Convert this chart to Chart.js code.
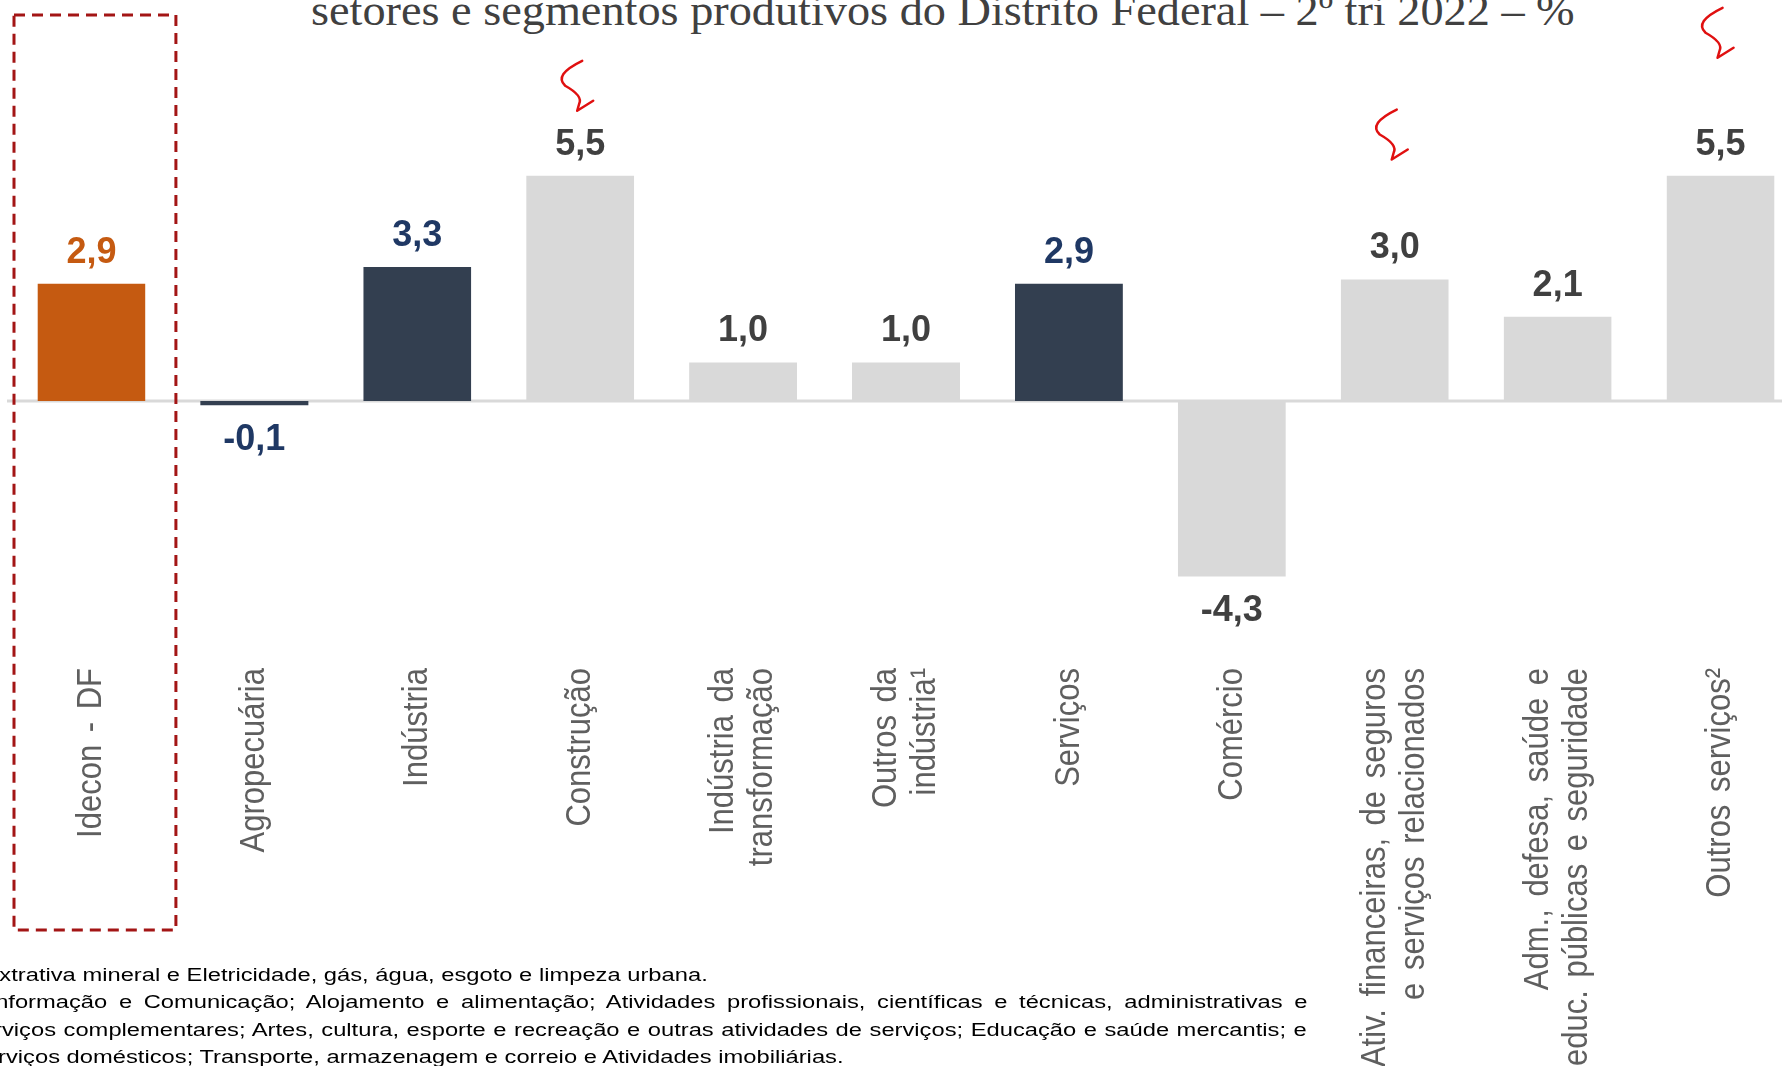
<!DOCTYPE html>
<html lang="pt-BR">
<head>
<meta charset="utf-8">
<title>Setores e segmentos produtivos do Distrito Federal</title>
<script src="https://cdn.jsdelivr.net/npm/chart.js@4.4.1/dist/chart.umd.min.js"></script>
<style>
  html, body { margin: 0; padding: 0; background: #fff; }
  body { width: 1782px; height: 1066px; overflow: hidden; position: relative; }
  #chart { position: absolute; left: 0; top: 0; }
  #title {
    position: absolute; left: 311px; top: -12px;
    font-family: "Liberation Serif", "DejaVu Serif", serif;
    font-size: 44.6px; line-height: 44.6px; color: #404040;
    white-space: nowrap; transform-origin: 0 0;
  }
  #notes {
    position: absolute; left: -31px; top: 961px;
    font-family: "Liberation Sans", Arial, sans-serif;
    font-size: 18.7px; line-height: 27.4px; color: #000;
    transform: scaleX(1.27); transform-origin: 0 0;
  }
  #notes .line { white-space: nowrap; }
  #notes .line span { display: inline-block; }
</style>
</head>
<body>
<div id="title">setores e segmentos produtivos do Distrito Federal – 2º tri 2022 – %</div>
<canvas id="chart" width="1810" height="1066"></canvas>
<div id="notes">
  <div class="line"><span>¹ Extrativa mineral e Eletricidade, gás, água, esgoto e limpeza urbana.</span></div>
  <div class="line just"><span>² Informação e Comunicação; Alojamento e alimentação; Atividades profissionais, científicas e técnicas, administrativas e</span></div>
  <div class="line just"><span>serviços complementares; Artes, cultura, esporte e recreação e outras atividades de serviços; Educação e saúde mercantis; e</span></div>
  <div class="line"><span>Serviços domésticos; Transporte, armazenagem e correio e Atividades imobiliárias.</span></div>
</div>
<script>
const categories = ['Idecon - DF', 'Agropecuária', 'Indústria', 'Construção', ['Indústria da', 'transformação'], ['Outros da', 'indústria¹'], 'Serviços', 'Comércio', ['Ativ. financeiras, de seguros', 'e serviços relacionados'], ['Adm., defesa, saúde e', 'educ. públicas e seguridade'], 'Outros serviços²']
const growth = [2.9, -0.1, 3.3, 5.5, 1.0, 1.0, 2.9, -4.3, 3.0, 2.1, 5.5]
const groups = ['total', 'setor', 'setor', 'segmento', 'segmento', 'segmento', 'setor', 'segmento', 'segmento', 'segmento', 'segmento']

const barColors = { total: '#C55A11', setor: '#333F50', segmento: '#D9D9D9' }
const valueColors = { total: '#C55A11', setor: '#1F3864', segmento: '#404040' }

// hand drawn red arrows over some bars (index, height of tip above the bar)
const arrowMarks = [{ at: 3, lift: 62 }, { at: 8, lift: 117 }, { at: 10, lift: 115 }]

// white edge at the end of the bars, as on the slide (not on tiny bars)
const capWidth = v => Math.abs(v) > 0.5 ? 3 : 0

// title stretched to the width it has on the slide
const title = document.getElementById('title')
title.style.transform = 'scaleX(' + (1264 / title.offsetWidth) + ')'

// justified footnote lines
const noteWidth = (1307 + 31) / 1.27
document.querySelectorAll('#notes .just span').forEach(span => {
    const spaces = (span.textContent.match(/ /g) || []).length
    span.style.wordSpacing = ((noteWidth - span.offsetWidth) / spaces) + 'px'
})

const zeroLine = {
    id: 'zeroLine',
    beforeDatasetsDraw(chart) {
        const { ctx, chartArea, scales: { y } } = chart
        const y0 = y.getPixelForValue(0)
        ctx.save()
        ctx.strokeStyle = '#D9D9D9'
        ctx.lineWidth = 3
        ctx.beginPath()
        ctx.moveTo(chartArea.left - 3, y0)
        ctx.lineTo(chart.width, y0)
        ctx.stroke()
        ctx.restore()
    }
}

const valueLabels = {
    id: 'valueLabels',
    afterDatasetsDraw(chart) {
        const { ctx } = chart
        ctx.save()
        ctx.font = 'bold 36px "Liberation Sans", Arial, sans-serif'
        ctx.textAlign = 'center'
        ctx.textBaseline = 'middle'
        chart.getDatasetMeta(0).data.forEach((bar, i) => {
            const v = growth[i]
            const cap = capWidth(v)
            ctx.fillStyle = valueColors[groups[i]]
            const y = v >= 0 ? bar.y + cap - 31 : bar.y - cap + 35
            ctx.fillText(v.toFixed(1).replace('.', ','), bar.x, y)
        })
        ctx.restore()
    }
}

const axisLabels = {
    id: 'axisLabels',
    afterDraw(chart) {
        const { ctx, scales: { x } } = chart
        ctx.save()
        ctx.fillStyle = '#5F5F5F'
        ctx.font = '31px "Liberation Sans", Arial, sans-serif'
        ctx.wordSpacing = '4px'
        ctx.textAlign = 'right'
        ctx.textBaseline = 'middle'
        categories.forEach((label, i) => {
            const lines = Array.isArray(label) ? label : [label]
            const cx = x.getPixelForValue(i)
            lines.forEach((line, j) => {
                ctx.save()
                ctx.translate(cx + (j - (lines.length - 1) / 2) * 39, 668)
                ctx.rotate(-Math.PI / 2)
                ctx.scale(1, 1.15)
                ctx.fillText(line, 0, 0)
                ctx.restore()
            })
        })
        ctx.restore()
    }
}

const marks = {
    id: 'marks',
    afterDraw(chart) {
        const { ctx, scales: { x } } = chart
        const bars = chart.getDatasetMeta(0).data
        const half = x.width / categories.length / 2
        const x0 = x.getPixelForValue(0)

        // dashed box round the Idecon column
        ctx.save()
        ctx.strokeStyle = '#A31515'
        ctx.lineWidth = 3
        ctx.setLineDash([11, 7])
        ctx.strokeRect(x0 - half + 4, 15, 2 * half - 1, 915)
        ctx.restore()

        // red squiggle arrows
        ctx.save()
        ctx.strokeStyle = '#E01010'
        ctx.lineWidth = 2.5
        ctx.lineCap = 'round'
        ctx.lineJoin = 'round'
        arrowMarks.forEach(m => {
            const bar = bars[m.at]
            ctx.save()
            ctx.translate(bar.x - 3, bar.y - m.lift)
            ctx.beginPath()
            ctx.moveTo(5, -50)
            ctx.quadraticCurveTo(-24, -36, -12, -25)
            ctx.quadraticCurveTo(6, -15, 2, -7)
            ctx.lineTo(0, 0)
            ctx.lineTo(16, -10)
            ctx.stroke()
            ctx.restore()
        })
        ctx.restore()
    }
}

new Chart(document.getElementById('chart'), {
    type: 'bar',
    data: {
        labels: categories,
        datasets: [{
            data: growth,
            backgroundColor: groups.map(g => barColors[g]),
            borderColor: '#FFFFFF',
            borderWidth: c => c.raw >= 0 ? { top: capWidth(c.raw) } : { bottom: capWidth(c.raw) },
            borderSkipped: 'start',
            categoryPercentage: 1,
            barPercentage: 0.663
        }]
    },
    options: {
        responsive: false,
        animation: false,
        layout: { padding: { left: 10, right: 8, top: 136, bottom: 0 } },
        plugins: { legend: { display: false }, tooltip: { enabled: false } },
        scales: {
            x: {
                grid: { display: false, drawTicks: false },
                border: { display: false },
                ticks: { display: false },
                afterFit: scale => { scale.height = 406 }
            },
            y: { display: false, min: -6.241, max: 6.386 }
        }
    },
    plugins: [zeroLine, valueLabels, axisLabels, marks]
})
</script>
</body>
</html>
